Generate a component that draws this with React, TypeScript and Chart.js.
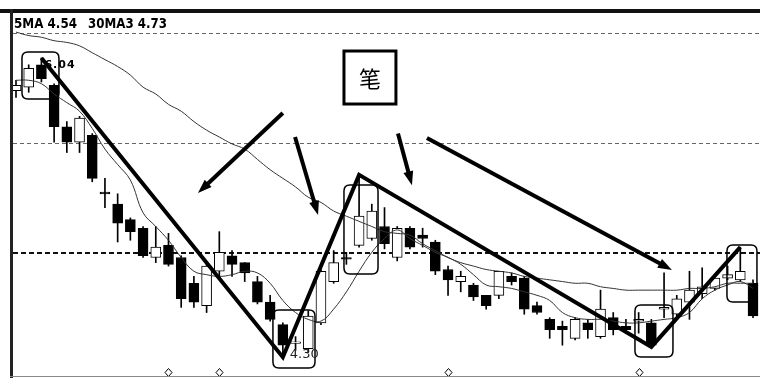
import React, { useEffect, useRef } from 'react';
import { Chart, registerables } from 'chart.js';
Chart.register(...registerables);

const opens = [5.85,5.87,6.00,5.88,5.64,5.55,5.59,5.26,5.19,5.10,5.05,4.88,4.95,4.88,4.73,4.60,4.80,4.89,4.85,4.74,4.62,4.49,4.38,4.35,4.50,4.74,4.88,4.95,4.99,5.06,4.88,5.05,5.01,4.97,4.81,4.74,4.72,4.66,4.66,4.77,4.76,4.60,4.52,4.48,4.41,4.50,4.42,4.53,4.48,4.51,4.50,4.58,4.55,4.62,4.67,4.70,4.76,4.75,4.73];
const highs = [5.91,6.00,6.04,5.89,5.67,5.70,5.60,5.34,5.25,5.11,5.06,5.06,5.02,4.89,4.77,4.84,5.03,4.92,4.85,4.77,4.66,4.50,4.42,4.57,4.81,4.92,4.91,5.36,5.19,5.17,5.06,5.06,5.05,4.98,4.83,4.80,4.73,4.66,4.80,4.79,4.77,4.62,4.53,4.51,4.53,4.52,4.69,4.56,4.52,4.56,4.52,4.79,4.66,4.80,4.82,4.76,4.83,4.94,4.75];
const lows = [5.81,5.84,5.90,5.55,5.49,5.49,5.32,5.17,4.97,4.98,4.88,4.85,4.83,4.59,4.59,4.56,4.76,4.77,4.74,4.61,4.51,4.30,4.34,4.33,4.49,4.73,4.84,4.94,4.98,4.93,4.86,4.93,4.94,4.78,4.66,4.68,4.63,4.58,4.64,4.72,4.55,4.55,4.41,4.37,4.40,4.41,4.41,4.43,4.44,4.44,4.36,4.53,4.53,4.52,4.64,4.69,4.75,4.74,4.53];
const closes = [5.88,5.98,5.92,5.64,5.55,5.69,5.34,5.25,5.08,5.03,4.89,4.94,4.84,4.64,4.62,4.83,4.91,4.84,4.79,4.62,4.52,4.37,4.39,4.54,4.80,4.85,4.87,5.12,5.15,4.96,5.05,4.94,4.99,4.80,4.75,4.77,4.65,4.60,4.80,4.74,4.58,4.56,4.46,4.46,4.52,4.46,4.58,4.46,4.46,4.52,4.37,4.59,4.64,4.69,4.71,4.76,4.78,4.80,4.54];
const ma5 = [5.91,5.91,5.89,5.83,5.78,5.73,5.63,5.51,5.42,5.33,5.14,5.06,4.98,4.88,4.80,4.78,4.77,4.78,4.80,4.79,4.73,4.63,4.56,4.52,4.51,4.58,4.68,4.80,4.91,4.99,5.04,4.99,4.95,4.91,4.88,4.84,4.78,4.72,4.71,4.70,4.68,4.66,4.63,4.56,4.53,4.52,4.52,4.51,4.50,4.50,4.51,4.52,4.53,4.56,4.64,4.69,4.72,4.74,4.70];
const ma30 = [6.19,6.17,6.16,6.14,6.13,6.11,6.07,6.03,5.99,5.94,5.87,5.83,5.77,5.73,5.67,5.62,5.58,5.54,5.51,5.45,5.39,5.34,5.29,5.23,5.20,5.15,5.12,5.09,5.06,5.03,5.02,5.01,4.96,4.92,4.88,4.85,4.83,4.81,4.80,4.79,4.77,4.76,4.75,4.74,4.73,4.73,4.71,4.70,4.69,4.69,4.69,4.69,4.69,4.70,4.70,4.71,4.73,4.73,4.73];

const strokeIdx = [2, 21, 27, 50, 57];
const strokeVal = [6.04, 4.30, 5.36, 4.36, 4.94];
const gridVals = [6.185, 5.546, 4.906];
const markIdx = [12, 16, 34, 49];
const titleMA5 = '5MA 4.54';
const titleMA30 = '30MA3 4.73';
const noteText = '笔';
const highLabelIdx = 2;
const lowLabelIdx = 21;

// annotation arrows (data coordinates: candle index, price)
const arrowFromIdx = [21.0, 21.96, 30.06, 32.34];
const arrowFromVal = [5.72, 5.58, 5.60, 5.575];
const arrowToIdx = [14.32, 23.77, 31.16, 51.62];
const arrowToVal = [5.255, 5.127, 5.30, 4.807];
// rounded boxes around turning points
const boxIdx0 = [0.47, 20.22, 25.81, 48.71, 55.95];
const boxIdx1 = [3.38, 23.53, 28.49, 51.70, 58.31];
const boxHi = [6.075, 4.575, 5.301, 4.604, 4.953];
const boxLo = [5.801, 4.237, 4.784, 4.301, 4.621];
const noteBoxIdx = [25.81, 29.90];
const noteBoxVal = [6.080, 5.772];

function roundRect(ctx: CanvasRenderingContext2D, x0: number, y0: number, x1: number, y1: number, r: number) {
  ctx.beginPath();
  ctx.moveTo(x0 + r, y0);
  ctx.lineTo(x1 - r, y0);
  ctx.quadraticCurveTo(x1, y0, x1, y0 + r);
  ctx.lineTo(x1, y1 - r);
  ctx.quadraticCurveTo(x1, y1, x1 - r, y1);
  ctx.lineTo(x0 + r, y1);
  ctx.quadraticCurveTo(x0, y1, x0, y1 - r);
  ctx.lineTo(x0, y0 + r);
  ctx.quadraticCurveTo(x0, y0, x0 + r, y0);
  ctx.closePath();
  ctx.stroke();
}

function arrow(ctx: CanvasRenderingContext2D, x0: number, y0: number, x1: number, y1: number) {
  const ang = Math.atan2(y1 - y0, x1 - x0);
  const L = 14, W = 5;
  const c = Math.cos(ang), s = Math.sin(ang);
  const bx = x1 - L * c, by = y1 - L * s;
  ctx.lineWidth = 4;
  ctx.beginPath();
  ctx.moveTo(x0, y0);
  ctx.lineTo(bx + 2 * c, by + 2 * s);
  ctx.stroke();
  ctx.beginPath();
  ctx.moveTo(x1, y1);
  ctx.lineTo(bx + W * s, by - W * c);
  ctx.lineTo(bx - W * s, by + W * c);
  ctx.closePath();
  ctx.fill();
}

function fitText(ctx: CanvasRenderingContext2D, text: string, x0: number, x1: number, base: number) {
  const w = ctx.measureText(text).width;
  ctx.save();
  ctx.translate(x0, base);
  ctx.scale((x1 - x0) / w, 1);
  ctx.fillText(text, 0, 0);
  ctx.restore();
}

const overlay = {
  id: 'overlay',
  beforeDatasetsDraw(chart: any) {
    const { ctx, chartArea: a, scales } = chart;
    const y = scales.y;
    ctx.save();
    gridVals.forEach((v, k) => {
      const strong = k === gridVals.length - 1;
      const py = strong ? Math.round(y.getPixelForValue(v)) : Math.round(y.getPixelForValue(v)) + 0.5;
      ctx.beginPath();
      ctx.setLineDash(strong ? [5, 3] : [4, 3]);
      ctx.lineWidth = strong ? 2 : 1;
      ctx.strokeStyle = strong ? '#111' : '#666';
      ctx.moveTo(a.left, py);
      ctx.lineTo(a.right, py);
      ctx.stroke();
    });
    ctx.restore();
  },
  afterDatasetsDraw(chart: any) {
    const { ctx, chartArea: a, scales } = chart;
    const x = scales.x, y = scales.y;
    ctx.save();
    ctx.beginPath();
    ctx.rect(a.left, a.top, a.right - a.left, a.bottom - a.top);
    ctx.clip();
    // rounded boxes
    ctx.strokeStyle = '#000';
    ctx.lineWidth = 1.5;
    for (let k = 0; k < boxIdx0.length; k++) {
      roundRect(ctx, x.getPixelForValue(boxIdx0[k]), y.getPixelForValue(boxHi[k]), x.getPixelForValue(boxIdx1[k]), y.getPixelForValue(boxLo[k]), 6);
    }
    // arrows
    ctx.fillStyle = '#000';
    ctx.strokeStyle = '#000';
    ctx.lineCap = 'butt';
    for (let k = 0; k < arrowFromIdx.length; k++) {
      arrow(ctx, x.getPixelForValue(arrowFromIdx[k]), y.getPixelForValue(arrowFromVal[k]), x.getPixelForValue(arrowToIdx[k]), y.getPixelForValue(arrowToVal[k]));
    }
    // note box
    const nx0 = x.getPixelForValue(noteBoxIdx[0]), nx1 = x.getPixelForValue(noteBoxIdx[1]);
    const ny0 = y.getPixelForValue(noteBoxVal[0]), ny1 = y.getPixelForValue(noteBoxVal[1]);
    ctx.fillStyle = '#fff';
    ctx.fillRect(nx0, ny0, nx1 - nx0, ny1 - ny0);
    ctx.lineWidth = 3;
    ctx.strokeRect(nx0, ny0, nx1 - nx0, ny1 - ny0);
    ctx.fillStyle = '#000';
    ctx.font = '22px "Noto Sans CJK SC"';
    ctx.textAlign = 'center';
    ctx.textBaseline = 'middle';
    ctx.fillText(noteText, (nx0 + nx1) / 2, (ny0 + ny1) / 2 + 1);
    // extreme labels
    ctx.textAlign = 'left';
    ctx.textBaseline = 'alphabetic';
    ctx.font = 'bold 11px "DejaVu Sans"';
    (ctx as any).letterSpacing = '1px';
    ctx.fillText(highs[highLabelIdx].toFixed(2), x.getPixelForValue(highLabelIdx) + 3, y.getPixelForValue(highs[highLabelIdx]) + 10);
    (ctx as any).letterSpacing = '0px';
    ctx.font = '13px "DejaVu Sans"';
    ctx.fillStyle = '#222';
    ctx.fillText(lows[lowLabelIdx].toFixed(2), x.getPixelForValue(lowLabelIdx) + 7, y.getPixelForValue(lows[lowLabelIdx]) + 1);
    // diamonds at bottom
    ctx.fillStyle = '#fff';
    ctx.strokeStyle = '#000';
    ctx.lineWidth = 1;
    markIdx.forEach((m) => {
      const px = Math.round(x.getPixelForValue(m)) + 0.5;
      const py = a.bottom - 3.5;
      ctx.beginPath();
      ctx.moveTo(px, py - 4);
      ctx.lineTo(px + 3.5, py);
      ctx.lineTo(px, py + 4);
      ctx.lineTo(px - 3.5, py);
      ctx.closePath();
      ctx.fill();
      ctx.stroke();
    });
    ctx.restore();
  },
  afterDraw(chart: any) {
    const { ctx, chartArea: a } = chart;
    ctx.save();
    // frame
    ctx.fillStyle = '#111';
    ctx.fillRect(0, 9, chart.width, 4);
    ctx.fillStyle = '#222';
    ctx.fillRect(10, 9, 3, chart.height - 9);
    ctx.strokeStyle = '#888';
    ctx.lineWidth = 1;
    ctx.beginPath();
    ctx.moveTo(10, a.bottom + 0.5);
    ctx.lineTo(chart.width, a.bottom + 0.5);
    ctx.stroke();
    // title
    ctx.fillStyle = '#000';
    ctx.font = 'bold 14px "DejaVu Sans Condensed", "DejaVu Sans"';
    ctx.textBaseline = 'alphabetic';
    fitText(ctx, titleMA5, 14, 77, 28);
    fitText(ctx, titleMA30, 88, 167, 28);
    ctx.restore();
  },
};

export default function App() {
  const ref = useRef<HTMLCanvasElement>(null);
  useEffect(() => {
    const bodyColors = opens.map((o, i) => (closes[i] >= o ? '#ffffff' : '#000000'));
    const chart = new Chart(ref.current as HTMLCanvasElement, {
      type: 'bar',
      data: {
        datasets: [
          {
            type: 'line',
            data: strokeIdx.map((v, k) => ({ x: v, y: strokeVal[k] })),
            borderColor: '#000',
            borderWidth: 4,
            pointRadius: 0,
            tension: 0,
            borderJoinStyle: 'miter',
            order: 0,
          } as any,
          {
            type: 'line',
            data: ma5.map((v, i) => ({ x: i, y: v })),
            borderColor: '#333',
            borderWidth: 1,
            pointRadius: 0,
            tension: 0.4,
            order: 1,
          } as any,
          {
            type: 'line',
            data: ma30.map((v, i) => ({ x: i, y: v })),
            borderColor: '#333',
            borderWidth: 1,
            pointRadius: 0,
            tension: 0.4,
            order: 2,
          } as any,
          {
            type: 'bar',
            data: opens.map((o, i) => ({ x: i, y: [o, closes[i]] })),
            backgroundColor: bodyColors,
            borderColor: '#000',
            borderWidth: 1,
            borderSkipped: false,
            barThickness: 10,
            grouped: false,
            order: 3,
          } as any,
          {
            type: 'bar',
            data: highs.map((h, i) => ({ x: i, y: [lows[i], h] })),
            backgroundColor: '#000',
            borderWidth: 0,
            barThickness: 1,
            grouped: false,
            order: 4,
          } as any,
        ],
      },
      options: {
        responsive: false,
        animation: false,
        events: [],
        layout: { padding: { left: 13, top: 13, right: 0, bottom: 2 } },
        plugins: { legend: { display: false }, tooltip: { enabled: false } },
        scales: {
          x: { type: 'linear', min: -0.236, max: 58.55, display: false, offset: false },
          y: { type: 'linear', min: 4.191, max: 6.301, display: false, beginAtZero: false },
        },
      } as any,
      plugins: [overlay],
    });
    return () => chart.destroy();
  }, []);
  return (
    <div style={{ position: 'absolute', left: 0, top: 0, width: 760, height: 378, background: '#fff' }}>
      <canvas ref={ref} width={760} height={378} style={{ display: 'block', width: 760, height: 378 }} />
    </div>
  );
}
